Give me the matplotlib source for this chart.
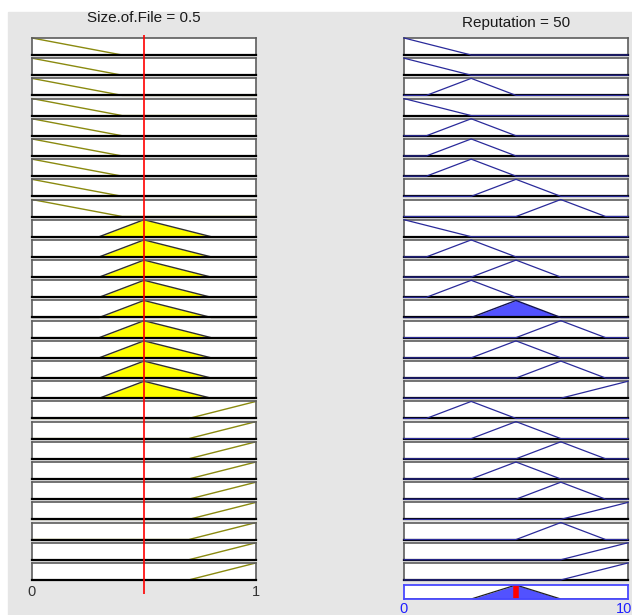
import numpy as np
import matplotlib
matplotlib.use("Agg")
import matplotlib.pyplot as plt
from matplotlib.patches import Rectangle

plt.rcParams['font.family'] = ['Liberation Sans', 'DejaVu Sans']

# crisp inputs / defuzzified output
size_value = 0.5
reputation_value = 50

# triangular MFs (a, b, c)
size_mfs = [(0.0, 0.0, 0.4), (0.3, 0.5, 0.8), (0.7, 1.0, 1.0)]
rep_mfs = [(0, 0, 30), (10, 30, 50), (30, 50, 70), (50, 70, 90), (70, 100, 100)]

# which MF each of the 27 rules uses
rule_size = [0] * 9 + [1] * 9 + [2] * 9
rule_rep = [0, 0, 1, 0, 1, 1, 1, 2, 3,
            0, 1, 2, 1, 2, 3, 2, 3, 4,
            1, 2, 3, 2, 3, 4, 3, 4, 4]
# firing strength of each rule (other inputs not shown)
rule_strength = [0, 0, 0, 0, 0, 0, 0, 0, 0,
                 0, 0, 0, 0, 1, 0, 0, 0, 0,
                 0, 0, 0, 0, 0, 0, 0, 0, 0]


def trimf(x, p):
    a, b, c = p
    left = np.ones_like(x) if b == a else (x - a) / (b - a)
    right = np.ones_like(x) if c == b else (c - x) / (c - b)
    y = np.minimum(left, right)
    y[x < a] = 0
    y[x > c] = 0
    return np.clip(y, 0, 1)


W, H = 632, 615
fig = plt.figure(figsize=(W / 100, H / 100), dpi=100)
fig.patch.set_facecolor('white')
fig.patches.append(Rectangle((8 / W, 0), (W - 8) / W, (H - 12) / H,
                             transform=fig.transFigure, color='#e6e6e6', zorder=-5))


def box(x0, top, w, h):
    return fig.add_axes([x0 / W, 1 - (top + h) / H, w / W, h / H])


def style(ax, xlim, frame=None):
    ax.set_xlim(*xlim)
    ax.set_ylim(0, 1)
    ax.set_xticks([])
    ax.set_yticks([])
    ax.set_facecolor('white')
    if frame:
        for s in ax.spines.values():
            s.set_color(frame)
            s.set_linewidth(1.3)
    else:
        for s in ['top', 'left', 'right']:
            ax.spines[s].set_color('#5c5c5c')
            ax.spines[s].set_linewidth(1.2)
        ax.spines['bottom'].set_color('black')
        ax.spines['bottom'].set_linewidth(1.6)


xs = np.linspace(0, 1, 401)
xr = np.linspace(0, 100, 401)
row_top, row_step, row_h = 38, 20.19, 17
LX, RX, BW = 32, 404, 224

agg = np.zeros_like(xr)
for i in range(27):
    top = row_top + i * row_step
    # input column
    ax = box(LX, top, BW, row_h)
    style(ax, (0, 1))
    mf = trimf(xs, size_mfs[rule_size[i]])
    deg = trimf(np.array([size_value]), size_mfs[rule_size[i]])[0]
    if deg > 0:
        ax.fill_between(xs, np.minimum(mf, deg), color='#ffff00', lw=0)
        ax.plot(xs, mf, color='#303030', lw=1, clip_on=False)
    else:
        ax.plot(xs, mf, color='#8a8a10', lw=1, clip_on=False)
    # output column
    ax = box(RX, top, BW, row_h)
    style(ax, (0, 100))
    mf = trimf(xr, rep_mfs[rule_rep[i]])
    w = rule_strength[i]
    if w > 0:
        clipped = np.minimum(mf, w)
        agg = np.maximum(agg, clipped)
        ax.fill_between(xr, clipped, color='#5252ff', lw=0)
        ax.plot(xr, mf, color='#101050', lw=1, clip_on=False, zorder=3)
    else:
        ax.plot(xr, mf, color='#2a2a9a', lw=0.9, clip_on=False, zorder=3)

# aggregated output
ax = box(RX, 585, BW, 14)
style(ax, (0, 100), frame='#4848ff')
ax.fill_between(xr, agg, color='#5252ff', lw=0)
ax.plot(xr, agg, color='#202020', lw=0.9)
ax.axvline(reputation_value, color='#ff0000', lw=4)

# red line marking the input value
ov = fig.add_axes([LX / W, 1 - 594 / H, BW / W, (594 - 35) / H])
ov.set_xlim(0, 1)
ov.axis('off')
ov.patch.set_alpha(0)
ov.axvline(size_value, color='#ff0000', lw=1.2)

# titles
fig.text((LX + BW * size_value) / W, 1 - 18 / H, 'Size.of.File = %g' % size_value,
         ha='center', va='center', fontsize=11, color='#1a1a1a')
fig.text((RX + BW * reputation_value / 100) / W, 1 - 23 / H,
         'Reputation = %g' % reputation_value,
         ha='center', va='center', fontsize=11, color='#1a1a1a')

# range labels
fig.text(LX / W, 1 - 592 / H, '0', ha='center', va='center', fontsize=10.5, color='#333333')
fig.text((LX + BW) / W, 1 - 592 / H, '1', ha='center', va='center', fontsize=10.5, color='#333333')
fig.text(RX / W, 1 - 609 / H, '0', ha='center', va='center', fontsize=10.5, color='#2020ff')
fig.text((RX + BW) / W, 1 - 609 / H, '100', ha='center', va='center', fontsize=10.5, color='#2020ff')

fig.savefig('out.png', dpi=100)
